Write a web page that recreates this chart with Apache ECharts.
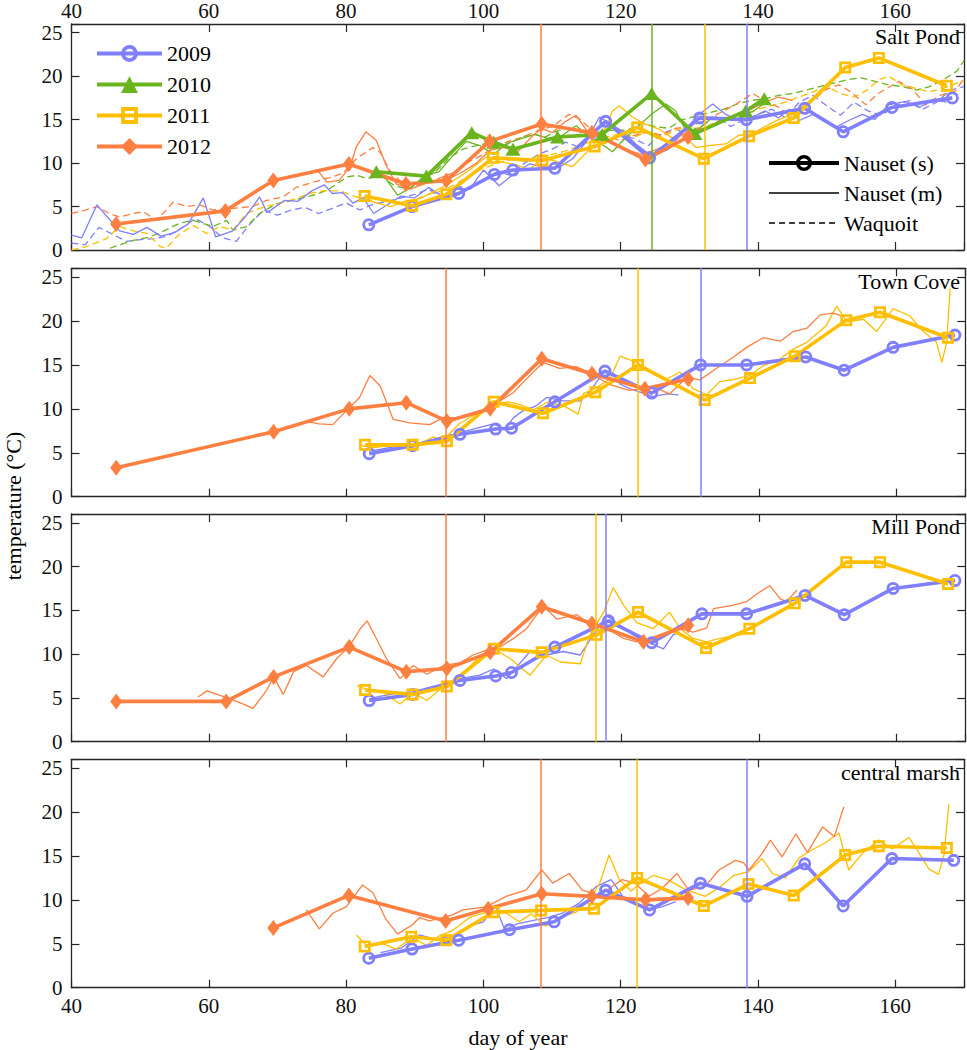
<!DOCTYPE html>
<html><head><meta charset="utf-8">
<script src="https://cdn.jsdelivr.net/npm/echarts@6/dist/echarts.min.js"></script>
<style>html,body{margin:0;padding:0;background:#fff}#chart{width:967px;height:1050px}</style>
</head><body><div id="chart"></div><script>
// ---------------- DATA ----------------
const years = ['2009', '2010', '2011', '2012'];
const sites = ['Salt Pond', 'Town Cove', 'Mill Pond', 'central marsh'];
const xTickLabels = [40, 60, 80, 100, 120, 140, 160];
const yTickLabels = [0, 5, 10, 15, 20, 25];
const legendTypes = ['Nauset (s)', 'Nauset (m)', 'Waquoit'];

// Salt Pond : Nauset (s) weekly samples
const saltS09 = [[83.3,2.9],[89.6,5.0],[96.4,6.5],[101.6,8.7],[104.3,9.2],[110.4,9.4],[117.8,14.8],[124.2,10.6],[131.5,15.2],[138.3,15.0],[146.8,16.3],[152.4,13.6],[159.5,16.4],[168.3,17.5]];
const saltS10 = [[84.4,9.0],[91.7,8.5],[98.3,13.5],[101.5,12.4],[104.3,11.6],[110.8,13.0],[117.3,13.3],[124.5,18.0],[130.8,13.4],[138.2,16.0],[140.9,17.4]];
const saltS11 = [[82.7,6.2],[89.6,5.1],[94.6,6.4],[101.4,10.6],[108.6,10.3],[116.2,11.9],[122.4,14.1],[132.1,10.5],[138.7,13.1],[145.2,15.2],[152.7,21.0],[157.6,22.1],[167.5,18.9]];
const saltS12 = [[46.5,3.0],[62.4,4.5],[69.4,8.0],[80.4,9.9],[88.7,7.6],[94.6,8.0],[100.9,12.5],[108.5,14.5],[115.8,13.5],[123.6,10.4],[129.8,13.0]];
// Salt Pond : Nauset (m) moorings
const saltM09 = [[40,1.7],[41.5,1.4],[43.7,5.2],[45,4.0],[47,2.2],[49,1.8],[51,2.6],[53,1.6],[55,2.0],[57,3.0],[59.2,6.0],[61,1.5],[63.5,2.2],[65.5,4.0],[67.4,6.1],[68.5,4.3],[71,5.7],[73,5.6],[75,6.8],[76.8,7.5],[78,6.5],[79.5,6.6],[81,5.4],[82.5,6.0],[84,4.2],[86,5.2],[88,6.2],[90,6.0],[92,7.2],[94,6.2],[96,7.1],[98,7.0],[100,9.2],[102.3,7.4],[104.5,8.8],[106.7,9.9],[108.5,9.6],[111,9.5],[113,10.5],[115,12.5],[116.9,15.3],[118.6,14.5],[120.5,13.5],[122.2,12.2],[124.5,10.8],[127,11.6],[129,13.5],[131.4,15.6],[133.4,16.8],[135.3,15.6],[137.2,14.9],[139.2,15.3],[141,16.0],[143,15.2],[144.5,16.2],[146,14.9],[148,15.6],[149.4,14.9],[151.3,14.1],[153.2,14.9],[155.2,15.6],[157,15.0],[159,16.7],[161.5,17.1],[163.5,16.4],[165.5,17.3],[167.5,17.0]];
const saltM10 = [[84,9.0],[85.5,8.5],[87.5,6.3],[89.5,7.2],[91.5,8.6],[93.5,9.0],[95.5,10.8],[97.5,12.5],[99.5,12.0],[101.5,11.0],[103.5,12.3],[105.5,12.8],[107.5,13.3],[109.5,12.8],[111.5,13.2],[113.5,14.3],[115.5,13.0],[117,12.3],[118.8,11.3],[120.8,13.0],[122.5,14.2],[124.6,15.7],[126.6,16.8],[128,16.0],[129.5,13.7],[131.5,14.0],[133.4,15.3],[135.3,14.9],[137.2,15.7],[139.2,15.9],[140.8,16.8]];
const saltM11 = [[82.5,6.0],[84.5,5.4],[86.5,5.0],[88.5,5.6],[90.7,5.9],[92.5,6.6],[94,7.2],[95.5,7.9],[98,9.2],[100.4,10.7],[102.8,10.1],[104.8,9.8],[106.7,9.2],[108.5,10.6],[110.1,10.3],[113,9.6],[115,11.2],[116.5,12.5],[117.8,14.1],[118.8,16.0],[119.8,16.6],[121.7,15.3],[123.5,14.5],[125.6,13.9],[127.5,12.9],[129,13.3],[131,11.8],[132.9,12.0],[135.3,12.2],[137.2,13.2],[139.2,13.4],[141,14.2],[143,15.0],[145,15.6],[147,16.8],[149,18.0],[150.5,19.0]];
const saltM12 = [[75.7,9.3],[77.2,7.8],[79,8.0],[80.6,9.6],[81.5,11.9],[82.9,13.6],[84.4,12.6],[85.9,9.6],[87.3,7.6],[89.3,7.0],[91,7.5],[93,8.0],[95,8.2],[97,9.0],[99,10.0],[101,11.5],[103,11.8],[105,11.3],[107,13.0],[108.5,14.0],[110,13.5],[112,14.8],[113.5,15.5],[115,13.8],[117,13.0],[119,12.2],[121,11.5],[123,11.0],[125,11.5],[127,12.2],[129,13.3],[131,13.8],[133,14.2],[135,15.2],[137,15.5],[139,16.2],[141,17.0],[143,17.6],[145,17.2]];
// Salt Pond : Waquoit
const saltW09 = [[40,0.8],[42,0.6],[44,2.6],[46,1.8],[48,1.0],[50,1.2],[52,1.3],[54,1.6],[56,2.5],[58,3.6],[60,2.8],[62,1.4],[64,1.0],[66,3.0],[68,4.6],[70,4.0],[72,4.6],[74,4.9],[76,4.2],[78,4.8],[80,5.4],[82,4.6],[84,5.3],[86,5.6],[88,6.0],[90,6.4],[92,7.0],[94,6.0],[96,7.4],[98,7.0],[100,8.0],[102,9.0],[104,8.6],[106,10.0],[108,11.0],[110,11.6],[112,12.4],[114,11.8],[116,13.0],[118,12.2],[120,13.4],[122,12.8],[124,12.0],[126,13.4],[128,14.0],[130,13.0],[132,14.4],[134,15.4],[136,14.2],[138,15.0],[140,15.6],[142,16.2],[144,15.2],[146,17.0],[148,17.8],[150,16.6],[152,15.5],[154,17.0],[156,16.0],[158,15.5],[160,16.6],[162,17.2],[164,16.2],[166,17.0],[168,18.4],[170,18.8]];
const saltW10 = [[45.6,0.2],[47,0.6],[49,1.1],[51.4,1.5],[53.5,2.2],[55.8,3.1],[57.7,3.4],[60.6,2.7],[62.6,3.4],[63.5,2.3],[65.5,2.7],[67.4,4.2],[69.8,5.3],[71.5,5.6],[73.2,5.9],[75.7,6.4],[77.7,7.1],[80.1,8.4],[81.6,8.6],[83,8.2],[85,8.6],[87,7.4],[89,7.0],[91,8.0],[93,9.0],[95,10.6],[97,11.6],[99,12.0],[101,12.4],[103,12.0],[105,12.8],[107,13.4],[109,13.0],[111,13.8],[113,14.0],[115,13.2],[117,13.6],[119,13.8],[121,13.8],[123,14.6],[125,14.2],[127,14.0],[129,15.0],[131,15.4],[133,15.8],[135,16.2],[137,16.8],[139,17.2],[141,17.4],[143,17.8],[145,18.0],[147,18.4],[149,18.8],[151,19.2],[153,19.6],[155,19.8],[157,19.4],[159,19.0],[161,18.8],[163,18.4],[165,18.8],[167,19.6],[169,20.6],[170,21.8]];
const saltW11 = [[40,0],[42.2,0.4],[45.1,1.3],[47,2.7],[49,2.2],[51,1.9],[52.9,0.4],[53.8,0.2],[55.8,1.9],[57.8,2.8],[59.7,1.9],[61.6,2.7],[63.5,2.3],[65.5,4.2],[67.4,4.8],[69.8,5.3],[72.3,5.8],[74.7,6.5],[76.6,6.8],[79.1,6.8],[81.5,6.1],[84,6.0],[86,5.6],[88,5.4],[90,5.8],[92,6.4],[94,6.8],[96,7.6],[98,8.6],[100,9.4],[102,10.0],[104,10.4],[106,10.2],[108,10.8],[110,11.0],[112,11.4],[114,12.0],[116,12.6],[118,13.0],[120,13.4],[122,13.0],[124,13.6],[126,13.0],[128,13.8],[130,14.2],[132,14.0],[134,14.8],[136,15.2],[138,15.6],[140,16.2],[142,16.6],[144,17.0],[146,17.6],[148,18.2],[150,18.8],[152,18.0],[154,17.6],[155.7,18.3],[157.6,19.6],[159,20.0],[161,19.0],[163,18.6],[165,18.2],[167,18.6],[169,19.2],[170,19.5]];
const saltW12 = [[40,4.2],[42,4.6],[43.7,5.0],[45.5,4.2],[47,3.8],[49,4.2],[50.5,4.4],[52.4,3.4],[54.8,5.5],[56.8,5.0],[58.7,5.2],[60.6,4.6],[63.5,4.8],[66.4,5.0],[68.4,5.7],[70.8,6.1],[72.7,7.2],[75.2,7.8],[77.5,8.3],[79.5,8.8],[81.5,10.5],[83.9,11.8],[85,11.2],[86.3,9.2],[88,7.8],[90,7.4],[92,7.8],[94,8.4],[96,9.0],[98,10.2],[100,11.0],[102,12.0],[104,12.6],[106,13.0],[108,13.8],[110,14.2],[112.5,15.6],[114,15.1],[116,13.6],[118,13.0],[120,12.6],[122,13.2],[124,13.6],[126,13.2],[128,14.0],[130,14.2],[131,14.5],[133,15.2],[135,16.0],[136.8,16.8],[139.2,18.0],[141,17.2],[143,16.4],[145,15.2],[147,16.8],[148.4,17.5],[150,18.5],[151.8,19.0],[153.5,18.2],[155.7,16.7],[157.5,18.0],[160.5,19.4],[162.5,18.5],[164.4,16.7],[166.5,17.8],[168.8,18.3],[170,19.8]];
const saltMarks = [138.3, 124.5, 132.3, 108.4];

// Town Cove
const townS09 = [[83.3,4.9],[89.6,5.8],[96.5,7.1],[101.7,7.7],[104.0,7.8],[110.3,10.8],[117.6,14.3],[124.4,11.8],[131.5,15.0],[138.2,15.0],[146.8,15.9],[152.4,14.4],[159.5,17.0],[168.5,18.4]];
const townS11 = [[82.7,5.9],[89.6,5.9],[94.6,6.3],[101.4,10.8],[108.6,9.5],[116.2,11.9],[122.4,15.0],[132.1,11.0],[138.7,13.5],[145.2,16.0],[152.7,20.1],[157.6,21.0],[167.5,18.1]];
const townS12 = [[46.5,3.3],[69.4,7.4],[80.4,10.0],[88.7,10.7],[94.6,8.6],[100.9,10.0],[108.4,15.7],[115.7,14.0],[123.4,12.3],[129.7,13.4]];
const townM09 = [[83.3,5.2],[85,5.4],[87,5.7],[89.6,5.9],[92,6.4],[94,6.8],[96.5,7.3],[98,7.6],[99.4,7.9],[101.4,8.3],[103,7.6],[104.3,9.0],[105.7,9.8],[107.5,10.3],[109.1,11.3],[111.5,10.9],[114,10.9],[115.4,12.0],[116.9,13.6],[118.8,14.0],[119.8,12.8],[121.2,12.3],[124.6,11.4],[126.6,11.7],[128.3,11.6]];
const townM11 = [[82.2,5.8],[84,5.6],[86,5.8],[88.3,5.8],[90,5.5],[91.3,6.3],[92.6,6.8],[94,6.4],[96.4,8.3],[99,9.5],[101.8,10.5],[103.5,10.8],[105.2,10.5],[107.2,9.9],[109.1,10.7],[111.5,10.4],[113.7,9.4],[114.5,11.8],[115.9,12.2],[118.3,13.4],[119.8,16.0],[122.2,15.3],[124.6,14.2],[126.6,13.4],[128.5,14.2],[130.4,12.3],[132.4,11.6],[134.3,13.1],[136.7,13.4],[138.7,13.8],[140.6,14.9],[143.1,15.7],[145,16.8],[147,17.6],[149.8,19.5],[151.3,21.7],[152.8,19.9],[155.2,20.2],[157.1,18.8],[159.5,21.4],[161.9,20.6],[163.9,18.8],[165.8,17.6],[166.6,15.3],[167.3,17.6],[167.8,23.7]];
const townM12 = [[74,8.6],[76,8.3],[78,8.2],[80,9.8],[81.9,11.3],[83.4,13.8],[84.9,12.6],[86.8,8.8],[89.2,8.4],[92.1,8.2],[94.1,9.0],[96.5,9.0],[98.4,9.4],[100.9,10.1],[102.5,11.0],[104.2,11.8],[106.3,13.5],[108.6,15.3],[111,14.6],[113.4,14.8],[115.8,13.9],[118.2,12.8],[121.1,12.1],[124.6,12.5],[127,11.7],[129.5,13.6],[131.4,13.3],[133.4,14.4],[136.3,15.9],[138.2,17.0],[140.6,18.1],[143.1,17.7],[145,18.8],[147,19.2],[148.9,20.7],[150.8,20.9],[152.3,20.5]];
const townMarks = [131.5, null, 122.4, 94.4];

// Mill Pond
const millS09 = [[83.3,4.7],[89.6,5.4],[96.5,7.0],[101.7,7.5],[104.0,7.9],[110.3,10.8],[118.1,13.8],[124.4,11.3],[131.7,14.6],[138.2,14.6],[146.7,16.7],[152.4,14.5],[159.5,17.5],[168.5,18.4]];
const millS11 = [[82.7,5.9],[89.6,5.4],[94.6,6.3],[101.4,10.6],[108.4,10.2],[116.4,12.2],[122.4,14.8],[132.3,10.7],[138.6,12.9],[145.2,15.8],[152.7,20.5],[157.6,20.5],[167.5,18.0]];
const millS12 = [[46.5,4.6],[62.5,4.6],[69.4,7.4],[80.4,10.8],[88.7,8.0],[94.6,8.35],[100.9,10.2],[108.4,15.4],[115.7,13.5],[123.2,11.4],[129.7,13.3]];
const millM09 = [[83.3,4.9],[85,5.2],[87,5.5],[89.6,5.7],[92,6.2],[94,6.6],[96.5,7.2],[99.4,7.6],[101.4,8.3],[103.3,7.2],[106.7,10.3],[109.1,9.9],[111.5,10.3],[114,9.9],[115.9,12.2],[117.8,14.4],[119.8,13.3],[121.7,12.2],[123.7,11.4],[126.1,10.6],[127.5,12.2],[128.5,12.5]];
const millM11 = [[81.5,6.4],[83.5,5.8],[85.4,5.6],[87.8,4.3],[89.7,5.6],[91.7,4.7],[93.6,6.0],[95.5,6.8],[97.5,8.2],[99.4,9.8],[101.4,10.6],[103.8,9.5],[106.7,7.6],[109.1,9.9],[111.1,9.1],[114,8.9],[115.4,12.2],[117.4,14.8],[118.8,17.6],[120.3,15.6],[122.2,13.6],[124.6,12.9],[127,14.8],[128.5,12.9],[130.4,11.8],[132.4,11.4],[134.3,11.8],[137.2,12.2],[138.5,12.4]];
const millM12 = [[58.4,5.1],[59.7,5.8],[61.6,5.3],[63.5,4.75],[65,4.3],[66.4,3.8],[68.4,5.9],[69.4,7.4],[70.8,5.4],[72.3,8.0],[74.2,8.7],[76.6,7.4],[78.6,9.5],[80.5,11.0],[82,12.9],[83,13.8],[84.4,11.7],[85.8,9.5],[87.8,7.2],[89.7,8.7],[91.7,7.7],[94.1,8.7],[96.5,9.0],[98.4,9.9],[100.9,10.6],[102.5,10.9],[104.3,11.8],[106.2,12.9],[108.6,15.5],[110.6,14.0],[113.5,14.5],[115.4,13.4],[117.8,13.0],[120.3,11.8],[122.2,11.4],[124.6,11.8],[126.6,12.5],[128.5,12.9],[130.4,12.5],[132.4,13.0],[133.4,15.2],[136.3,15.6],[138.2,16.0],[140.1,17.1],[141.6,17.8],[143.1,16.3],[144,16.0],[145.5,17.3]];
const millMarks = [117.7, null, 116.2, 94.4];

// central marsh
const marshS09 = [[83.3,3.35],[89.6,4.4],[96.4,5.4],[103.8,6.6],[110.3,7.5],[117.8,11.1],[124.2,8.85],[131.6,11.9],[138.4,10.4],[146.8,14.1],[152.4,9.3],[159.5,14.7],[168.5,14.5]];
const marshS11 = [[82.7,4.7],[89.5,5.8],[94.6,5.4],[101.5,8.6],[108.4,8.8],[116.1,9.0],[122.4,12.5],[132.1,9.3],[138.6,11.8],[145.2,10.5],[152.7,15.1],[157.6,16.1],[167.5,15.9]];
const marshS12 = [[69.4,6.8],[80.4,10.5],[94.5,7.6],[100.7,9.0],[108.5,10.7],[115.8,10.4],[123.6,10.0],[129.8,10.2]];
const marshM09 = [[85,4.0],[88,4.5],[90.7,6.0],[93,5.5],[95.5,5.9],[98,7.0],[100,7.5],[101.7,9.4],[103.1,6.6],[105,7.3],[107.5,7.7],[109.5,8.0],[111.5,8.5],[113.9,9.6],[116.4,11.5],[118.6,12.3],[120.3,10.4],[122.5,9.5],[124.1,8.9],[126,9.2],[128,9.8]];
const marshM11 = [[81.5,6.0],[83,4.8],[85.4,5.0],[87.3,4.4],[89.7,5.7],[91.7,4.8],[93.6,5.9],[95.5,6.5],[98,8.0],[100.5,8.6],[103.3,8.5],[105.2,7.5],[107,8.4],[109.1,7.0],[111.5,8.1],[113.5,8.6],[115.5,10.0],[117,12.0],[118.3,15.1],[119.8,12.3],[121.5,11.0],[123,12.0],[124.8,12.8],[126.8,12.3],[129.4,11.2],[132.3,10.4],[134.5,11.5],[136.5,12.8],[138.6,13.2],[140.6,14.7],[142.1,13.0],[144,12.5],[146,14.8],[147.9,15.7],[149.8,16.5],[151.8,17.6],[153.2,13.4],[155.2,15.3],[157.6,16.8],[159.5,15.8],[162,17.1],[163.4,15.4],[164.9,13.5],[166.3,12.9],[167.1,15.2],[167.8,20.9]];
const marshM12 = [[74.2,8.85],[76.1,6.7],[78.1,8.5],[80,9.2],[82.4,11.7],[83.9,10.8],[85.8,7.8],[87.5,6.1],[89.7,7.2],[90.7,8.0],[92.1,7.6],[93.6,7.9],[95.5,8.3],[97,8.85],[100.4,9.2],[103.3,10.4],[106.2,11.1],[108.5,13.4],[110.1,11.9],[112.5,13.0],[114.4,11.1],[116.8,10.5],[118.7,11.5],[120.2,12.3],[122.1,11.9],[124.1,10.4],[126,11.3],[128.2,13.0],[129.9,11.1],[132.3,11.5],[134.3,13.4],[136.7,14.5],[137.9,14.2],[138.7,13.4],[140.6,15.3],[141.8,16.8],[143.5,14.9],[145.5,17.5],[147.2,15.4],[149.4,18.3],[151.1,17.2],[152.5,20.6]];
const marshMarks = [138.3, null, 122.4, 108.4];

// ---------------- STYLE / LAYOUT ----------------
const FONT = '"Liberation Serif","Times New Roman",serif';
const COLORS = ['#7F7FFF', '#6AB41E', '#FFBF00', '#FF7F40'];
// hollow ring / square-ring marker outlines (drawn by ECharts as symbols)
const RING = 'path://M0,-6A6,6 0 1,1 0,6A6,6 0 1,1 0,-6ZM0,-3.4A3.4,3.4 0 1,0 0,3.4A3.4,3.4 0 1,0 0,-3.4Z';
const SQRING = 'path://M-6,-6L6,-6L6,6L-6,6ZM-3.3,-3.3L-3.3,3.3L3.3,3.3L3.3,-3.3Z';
const SYMBOLS = [RING, 'triangle', SQRING, 'diamond'];
const SYMBOL_SIZES = [13, [15, 13], 12, [12, 16]];
const GRID_TOP = [22.7, 268.3, 514, 759.3];
const GRID_H = [227.3, 228.4, 227.7, 228.4];
const TITLE_Y = [37, 282, 527, 773];
const AXIS_COLOR = '#262626';

const panels = [
  { s: [saltS09, saltS10, saltS11, saltS12], m: [saltM09, saltM10, saltM11, saltM12], w: [saltW09, saltW10, saltW11, saltW12], marks: saltMarks },
  { s: [townS09, null, townS11, townS12], m: [townM09, null, townM11, townM12], w: null, marks: townMarks },
  { s: [millS09, null, millS11, millS12], m: [millM09, null, millM11, millM12], w: null, marks: millMarks },
  { s: [marshS09, null, marshS11, marshS12], m: [marshM09, null, marshM11, marshM12], w: null, marks: marshMarks }
];

const grids = [], xAxes = [], yAxes = [], series = [];
const lbl = (show, margin, list) => ({ show, margin, fontSize: 21, fontFamily: FONT, color: '#111',
  formatter: v => list.indexOf(v) >= 0 ? String(v) : '' });
const axisLine = { show: true, onZero: false, lineStyle: { color: AXIS_COLOR, width: 1.3 } };
const axisTick = { show: true, inside: true, length: 8, lineStyle: { color: AXIS_COLOR, width: 1.2 } };

panels.forEach((p, i) => {
  grids.push({ left: 71.5, right: 1.75, top: GRID_TOP[i], height: GRID_H[i] });
  const xBase = { type: 'value', gridIndex: i, min: 40, max: 170, interval: 20, axisLine, axisTick, splitLine: { show: false } };
  xAxes.push(Object.assign({}, xBase, { position: 'bottom', axisLabel: lbl(i === 3, 8, xTickLabels) }));
  xAxes.push(Object.assign({}, xBase, { position: 'top', axisLabel: lbl(i === 0, 3, xTickLabels) }));
  const yBase = { type: 'value', gridIndex: i, min: 0, max: 26, interval: 5, axisLine, axisTick, splitLine: { show: false } };
  yAxes.push(Object.assign({}, yBase, { position: 'left', axisLabel: lbl(true, 9, yTickLabels) }));
  yAxes.push(Object.assign({}, yBase, { position: 'right', axisLabel: { show: false } }));
  const xi = 2 * i, yi = 2 * i;
  // Waquoit (dashed)
  if (p.w) p.w.forEach((d, k) => {
    if (!d) return;
    series.push({ type: 'line', name: 'W' + years[k] + '-' + i, xAxisIndex: xi, yAxisIndex: yi, data: d,
      symbol: 'none', z: 2, silent: true, lineStyle: { color: COLORS[k], width: 1.3, type: [7, 4] } });
  });
  // Nauset (m) (thin)
  p.m.forEach((d, k) => {
    if (!d) return;
    series.push({ type: 'line', name: 'M' + years[k] + '-' + i, xAxisIndex: xi, yAxisIndex: yi, data: d,
      symbol: 'none', z: 2, silent: true, lineStyle: { color: COLORS[k], width: 1.3 } });
  });
  // Nauset (s) (thick with markers) + vertical marks
  p.s.forEach((d, k) => {
    if (!d) return;
    const s = { type: 'line', name: years[k], xAxisIndex: xi, yAxisIndex: yi, data: d, z: 3, silent: true,
      symbol: SYMBOLS[k], symbolSize: SYMBOL_SIZES[k], showAllSymbol: true,
      itemStyle: { color: COLORS[k], borderWidth: 0 },
      lineStyle: { color: COLORS[k], width: 3.6 } };
    if (p.marks[k] != null) {
      s.markLine = { silent: true, symbol: 'none', label: { show: false },
        lineStyle: { color: COLORS[k], width: 1.5, type: 'solid' }, data: [{ xAxis: p.marks[k] }] };
    }
    series.push(s);
  });
});

// legend-only series (black style keys)
series.push({ type: 'line', name: legendTypes[0], xAxisIndex: 0, yAxisIndex: 0, data: [], symbol: RING,
  itemStyle: { color: '#000', borderWidth: 0 }, lineStyle: { color: '#000', width: 4 } });
series.push({ type: 'line', name: legendTypes[1], xAxisIndex: 0, yAxisIndex: 0, data: [], symbol: 'circle',
  itemStyle: { color: '#000' }, lineStyle: { color: '#000', width: 1.5 } });
series.push({ type: 'line', name: legendTypes[2], xAxisIndex: 0, yAxisIndex: 0, data: [], symbol: 'circle',
  itemStyle: { color: '#000' }, lineStyle: { color: '#000', width: 1.5, type: [6, 4] } });

const legendText = { fontSize: 22, fontFamily: FONT, color: '#000', lineHeight: 21 };
const graphics = sites.map((t, i) => ({ type: 'text', right: 7, top: TITLE_Y[i] - 12, silent: true,
  style: { text: t, font: '22px ' + FONT, fill: '#000' } }));
graphics.push({ type: 'text', x: 13, y: 506, rotation: Math.PI / 2, silent: true,
  style: { text: 'temperature (\u00B0C)', font: '22px ' + FONT, fill: '#000', textAlign: 'center', textVerticalAlign: 'middle' } });
graphics.push({ type: 'text', x: 518, y: 1037, silent: true,
  style: { text: 'day of year', font: '22px ' + FONT, fill: '#000', textAlign: 'center', textVerticalAlign: 'middle' } });

const option = {
  animation: false,
  backgroundColor: '#fff',
  grid: grids, xAxis: xAxes, yAxis: yAxes, series,
  legend: [
    { data: years, orient: 'vertical', left: 95, top: 42.5, padding: 0, itemWidth: 65, itemHeight: 21, itemGap: 9,
      selectedMode: false, textStyle: legendText, lineStyle: { width: 4 }, itemStyle: { borderWidth: 0 } },
    { data: [
        { name: legendTypes[0], lineStyle: { width: 4 }, itemStyle: { borderWidth: 0 } },
        { name: legendTypes[1], lineStyle: { width: 1.5 }, itemStyle: { opacity: 0 } },
        { name: legendTypes[2], lineStyle: { width: 1.5 }, itemStyle: { opacity: 0 } } ],
      orient: 'vertical', left: 767, top: 152, padding: 0, itemWidth: 70, itemHeight: 20, itemGap: 8,
      selectedMode: false, textStyle: legendText }
  ],
  graphic: graphics
};
const chart = echarts.init(document.getElementById('chart'), null, { renderer: 'svg' });
chart.setOption(option);
</script></body></html>
